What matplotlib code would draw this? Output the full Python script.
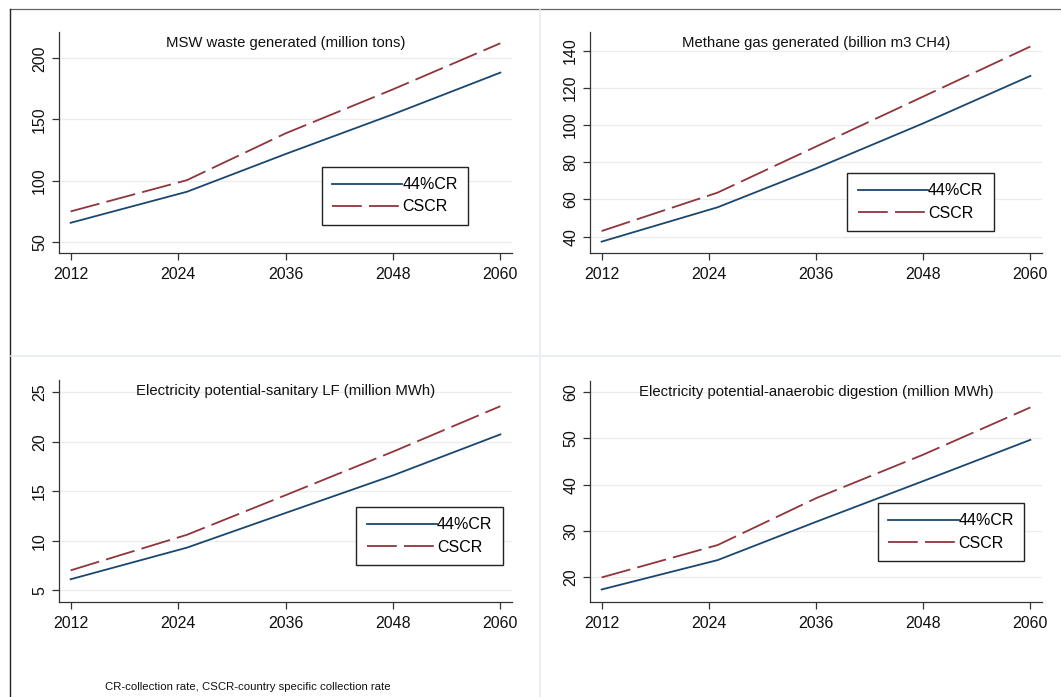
import matplotlib
matplotlib.use("Agg")
import matplotlib.pyplot as plt
from matplotlib.lines import Line2D

plt.rcParams['font.family'] = ['Liberation Sans', 'DejaVu Sans']

# projection years (kinks)
years = [2012, 2025, 2036, 2048, 2060]
xticks = [2012, 2024, 2036, 2048, 2060]

titles = ["MSW waste generated (million tons)",
          "Methane gas generated (billion m3 CH4)",
          "Electricity potential-sanitary LF (million MWh)",
          "Electricity potential-anaerobic digestion (million MWh)"]

cr44 = [[65.5, 90.9, 121.7, 154.2, 188.3],
        [37.3, 55.8, 76.7, 100.9, 126.4],
        [6.1, 9.3, 12.8, 16.6, 20.75],
        [17.4, 23.75, 32.0, 40.8, 49.7]]

cscr = [[74.8, 100.4, 138.6, 174.6, 212.3],
        [43.0, 63.7, 88.4, 115.3, 142.2],
        [7.0, 10.6, 14.6, 19.0, 23.6],
        [20.0, 27.0, 37.1, 46.5, 56.7]]

yticks = [[50, 100, 150, 200],
          [40, 60, 80, 100, 120, 140],
          [5, 10, 15, 20, 25],
          [20, 30, 40, 50, 60]]

ylims = [(40.8, 221.5), (31.2, 150), (3.8, 26.25), (14.7, 62.4)]

# axes boxes in pixels: left, top, right, bottom
boxes = [(59, 32, 512, 253), (590, 32, 1042, 253),
         (59, 380, 512, 602), (590, 381, 1042, 602)]
legpos = [(0.58, 0.39), (0.569, 0.362), (0.656, 0.428), (0.637, 0.448)]

W, H = 1061, 697
fig = plt.figure(figsize=(W / 100, H / 100), dpi=100)

blue = '#1a476f'
red = '#90353b'

for i in range(4):
    l, t, r, b = boxes[i]
    ax = fig.add_axes([l / W, 1 - b / H, (r - l) / W, (b - t) / H])
    ax.plot(years, cr44[i], color=blue, lw=1.3, label='44%CR')
    ax.plot(years, cscr[i], color=red, lw=1.3, dashes=(16.5, 4), label='CSCR')
    ax.set_xlim(2010.7, 2061.3)
    ax.set_ylim(*ylims[i])
    ax.set_xticks(xticks)
    ax.set_yticks(yticks[i])
    ax.set_yticklabels([str(v) for v in yticks[i]], rotation=90, va='center')
    ax.tick_params(direction='out', length=5, width=0.9, color='#333333',
                   labelsize=11.5, labelcolor='#111111')
    ax.tick_params(axis='x', pad=5)
    ax.grid(axis='y', color='#ececec', lw=0.9)
    ax.set_axisbelow(True)
    for s in ['top', 'right']:
        ax.spines[s].set_visible(False)
    for s in ['left', 'bottom']:
        ax.spines[s].set_color('#333333')
        ax.spines[s].set_linewidth(0.9)
    ax.text(0.5, 0.95, titles[i], transform=ax.transAxes, ha='center',
            va='center', fontsize=10.7, color='#111111')
    leg = ax.legend(loc='upper left', bbox_to_anchor=legpos[i], borderaxespad=0,
                    fontsize=11.5, handlelength=4.4, handletextpad=0.0,
                    fancybox=False, framealpha=1, edgecolor='#222222',
                    borderpad=0.65, labelspacing=0.45)
    leg.get_frame().set_linewidth(1.0)

# frame and faint separators of the combined graph
fig.add_artist(Line2D([10 / W, 1], [1 - 9 / H, 1 - 9 / H], color='#666666', lw=0.9))
fig.add_artist(Line2D([10 / W, 10 / W], [0, 1 - 9 / H], color='#222222', lw=1.0))
fig.add_artist(Line2D([540 / W, 540 / W], [0, 1 - 10 / H], color='#e4ecee', lw=1.2))
fig.add_artist(Line2D([11 / W, 1], [1 - 356 / H, 1 - 356 / H], color='#e4ecee', lw=1.2))

fig.text(105 / W, 1 - 687 / H, "CR-collection rate, CSCR-country specific collection rate",
         fontsize=8.2, va='center', color='#111111')

fig.savefig('out.png', dpi=100)
